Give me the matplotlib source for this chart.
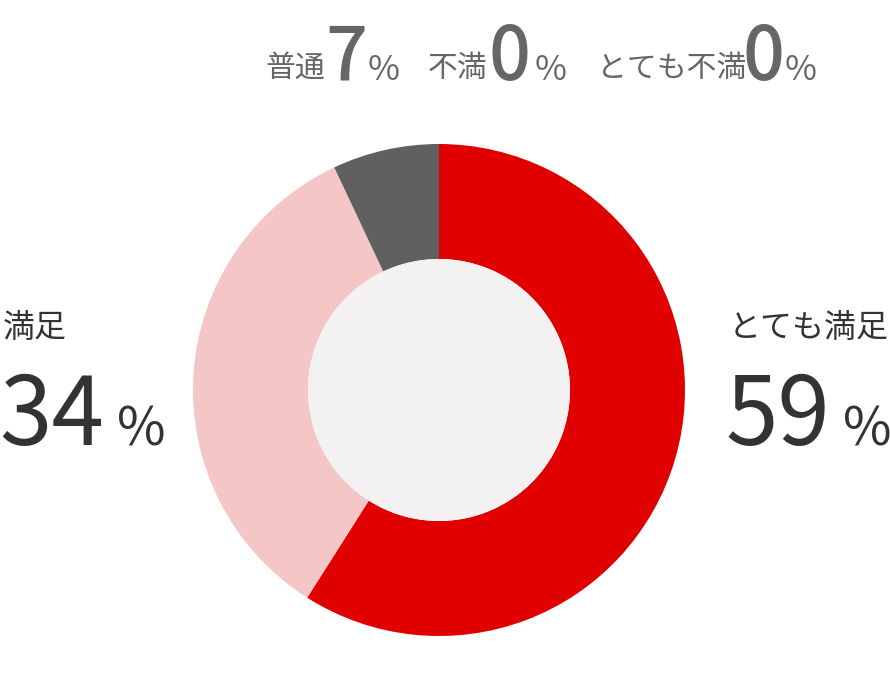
import matplotlib.pyplot as plt
from matplotlib.patches import Circle

plt.rcParams['font.family'] = ['Noto Sans CJK JP', 'DejaVu Sans']

# データ
categories = ['とても満足', '満足', '普通', '不満', 'とても不満']
values = [59, 34, 7, 0, 0]
colors = ['#e00000', '#f4c6c6', '#606060', '#b0b0b0', '#888888']

W, H = 890, 678
fig = plt.figure(figsize=(W / 100, H / 100), dpi=100)

# ドーナツの位置 (ピクセル)
cx, cy, r_out, r_in = 439, 390, 246, 131
ax = fig.add_axes([(cx - r_out) / W, (H - cy - r_out) / H, 2 * r_out / W, 2 * r_out / H])
ax.pie(values, colors=colors, startangle=90, counterclock=False,
       wedgeprops=dict(width=1 - r_in / r_out, linewidth=0))
ax.add_patch(Circle((0, 0), r_in / r_out, facecolor='#f3f1f2', edgecolor='none'))
ax.set_xlim(-1, 1)
ax.set_ylim(-1, 1)
ax.set_aspect('equal')
ax.axis('off')


def px(x, y):
    return x / W, 1 - y / H


# 上段のラベル (普通・不満・とても不満)
top_pos = {'普通': (265, 328, 368), '不満': (428, 492, 535), 'とても不満': (597, 745, 785)}
for name, val in zip(categories, values):
    if name in top_pos:
        x1, x2, x3 = top_pos[name]
        fig.text(*px(x1, 77), name, fontsize=21.5, color='#666666', va='baseline')
        fig.text(*px(x2 - 3, 80), str(val), fontsize=53, color='#666666',
                 va='baseline', fontweight='medium')
        fig.text(*px(x3, 80), '%', fontsize=25, color='#666666', va='baseline')

# 左右のラベル
side_pos = {'満足': (3, 117), 'とても満足': (729, 843)}
for name, val in zip(categories, values):
    if name in side_pos:
        x1, x2 = side_pos[name]
        fig.text(*px(x1, 337), name, fontsize=23, color='#333333', va='baseline')
        fig.text(*px(x1 - 4, 445), str(val), fontsize=68, color='#333333', va='baseline')
        fig.text(*px(x2, 445), '%', fontsize=38, color='#333333', va='baseline')

plt.savefig('out.png', dpi=100)
plt.close()
